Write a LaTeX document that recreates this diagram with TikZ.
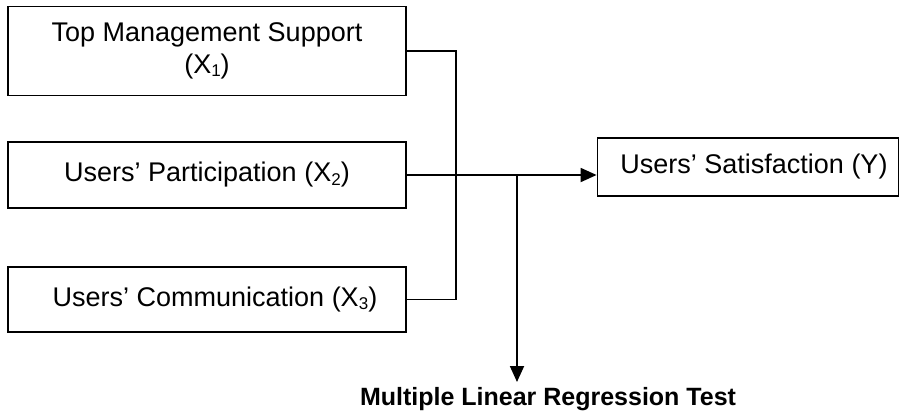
\documentclass[tikz,border=0pt]{standalone}
\usepackage{fontspec}
\setmainfont{Liberation Sans}
\usetikzlibrary{arrows.meta}
\newcommand{\mysub}[1]{\raisebox{-0.12em}{\fontsize{17}{17}\selectfont #1}}
\begin{document}
\begin{tikzpicture}[x=1pt,y=-1pt,
  box/.style={draw=black,line width=1.8pt,rectangle,inner sep=0pt,align=center,font=\fontsize{27}{32}\selectfont},
  conn/.style={draw=black,line width=1.8pt},
  arr/.style={conn,-{Triangle[width=14pt,length=16pt]}}]
\useasboundingbox (0,0) rectangle (900,418);
\node[box,minimum width=398pt,minimum height=89pt] (x1) at (207,51) {Top Management Support\\(X\mysub{1})};
\node[box,minimum width=398pt,minimum height=66pt] (x2) at (207,175) {Users’ Participation (X\mysub{2})};
\node[box,minimum width=398pt,minimum height=65pt] (x3) at (207,299.5) {\hspace*{16pt}Users’ Communication (X\mysub{3})};
\node[box,minimum width=301pt,minimum height=58pt] (y) at (748,167) {\hspace*{12pt}Users’ Satisfaction (Y)};
\node[font=\fontsize{25}{29}\selectfont\bfseries,inner sep=0pt] (mlr) at (548,399) {Multiple Linear Regression Test};
\coordinate (bus) at (456,0);
\coordinate (j) at (517,175);
\coordinate (tip) at (517,382);
\draw[conn] (x1.east) -- (x1.east -| bus) -- (x3.east -| bus) -- (x3.east);
\draw[arr] (x2.east) -- (x2.east -| y.west);
\draw[arr] (j) -- (tip);
\end{tikzpicture}
\end{document}
